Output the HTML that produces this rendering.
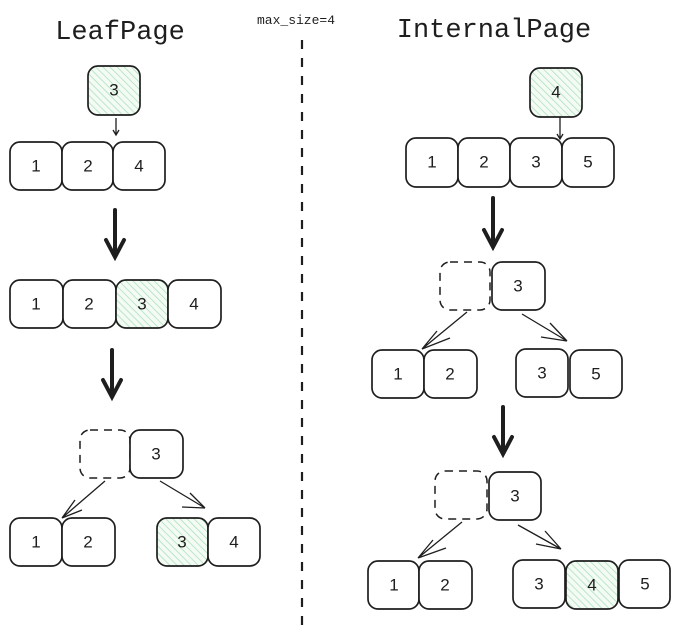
<!DOCTYPE html>
<html><head><meta charset="utf-8"><style>
html,body{margin:0;padding:0;background:#fff;width:680px;height:640px;overflow:hidden}
svg{display:block}
.b{fill:#fff;stroke:#1e1e1e;stroke-width:1.7}
.g{fill:url(#hat);stroke:#1e1e1e;stroke-width:1.7}
.d{fill:none;stroke:#1e1e1e;stroke-width:1.5;stroke-dasharray:8 6}
.t{font-family:"Liberation Sans",sans-serif;font-size:17px;fill:#1e1e1e;text-anchor:middle;dominant-baseline:central}
.m{font-family:"Liberation Mono",monospace;fill:#1e1e1e}
.a{stroke:#1e1e1e;stroke-width:1.3;fill:none}
.k{stroke:#1e1e1e;stroke-width:4;fill:none;stroke-linecap:round}
</style></head><body>
<svg width="680" height="640" viewBox="0 0 680 640">
<defs><pattern id="hat" width="5" height="5" patternUnits="userSpaceOnUse" patternTransform="rotate(-45)">
<rect width="5" height="5" fill="#f4fbf5"/><line x1="0" y1="0" x2="0" y2="5" stroke="#a9e0b5" stroke-width="1.5"/></pattern></defs>

<text class="m" x="120" y="39" font-size="27" text-anchor="middle">LeafPage</text>
<text class="m" x="494" y="37" font-size="27" text-anchor="middle">InternalPage</text>
<text class="m" x="296" y="24" font-size="13" text-anchor="middle">max_size=4</text>
<line x1="302" y1="40" x2="302" y2="626" stroke="#1e1e1e" stroke-width="2.2" stroke-dasharray="9 9"/>

<!-- LEFT -->
<rect class="g" x="88" y="66" width="52" height="49" rx="10"/><text class="t" x="114" y="90">3</text>
<path class="a" d="M116 118 V135 M113 130 L116 135 L119 130"/>
<rect class="b" x="10" y="142" width="52" height="48" rx="10"/><text class="t" x="36" y="166">1</text>
<rect class="b" x="62" y="142" width="51" height="48" rx="10"/><text class="t" x="88" y="166">2</text>
<rect class="b" x="113" y="142" width="52" height="48" rx="10"/><text class="t" x="139" y="166">4</text>
<path class="k" d="M115 210 V256 M106 240 L115 257 L124 240"/>
<rect class="b" x="10" y="280" width="53" height="48" rx="10"/><text class="t" x="36" y="304">1</text>
<rect class="b" x="63" y="280" width="53" height="48" rx="10"/><text class="t" x="89" y="304">2</text>
<rect class="g" x="116" y="280" width="52" height="48" rx="10"/><text class="t" x="142" y="304">3</text>
<rect class="b" x="168" y="280" width="53" height="48" rx="10"/><text class="t" x="194" y="304">4</text>
<path class="k" d="M112 350 V396 M103 380 L112 397 L121 380"/>
<rect class="d" x="80" y="430" width="50" height="48" rx="10"/>
<rect class="b" x="130" y="430" width="53" height="48" rx="10"/><text class="t" x="156" y="454">3</text>
<path class="a" d="M105 481 L62 518 M62 518 L75 500 M62 518 L82 510"/>
<path class="a" d="M160 481 L205 508 M205 508 L190 493 M205 508 L182 507"/>
<rect class="b" x="10" y="518" width="52" height="48" rx="10"/><text class="t" x="36" y="542">1</text>
<rect class="b" x="62" y="518" width="53" height="48" rx="10"/><text class="t" x="88" y="542">2</text>
<rect class="g" x="157" y="518" width="51" height="48" rx="10"/><text class="t" x="182" y="542">3</text>
<rect class="b" x="208" y="518" width="52" height="48" rx="10"/><text class="t" x="234" y="542">4</text>

<!-- RIGHT -->
<rect class="g" x="530" y="68" width="52" height="49" rx="10"/><text class="t" x="556" y="92">4</text>
<path class="a" d="M560 117 V139 M557 134 L560 139 L563 134"/>
<rect class="b" x="406" y="138" width="52" height="49" rx="10"/><text class="t" x="432" y="162">1</text>
<rect class="b" x="458" y="138" width="52" height="49" rx="10"/><text class="t" x="484" y="162">2</text>
<rect class="b" x="510" y="138" width="52" height="49" rx="10"/><text class="t" x="536" y="162">3</text>
<rect class="b" x="562" y="138" width="52" height="49" rx="10"/><text class="t" x="588" y="162">5</text>
<path class="k" d="M493 198 V246 M484 230 L493 247 L502 230"/>
<rect class="d" x="440" y="262" width="50" height="48" rx="10"/>
<rect class="b" x="492" y="262" width="53" height="48" rx="10"/><text class="t" x="518" y="286">3</text>
<path class="a" d="M467 312 L422 349 M422 349 L437 331 M422 349 L450 338"/>
<path class="a" d="M522 314 L567 341 M567 341 L550 323 M567 341 L541 337"/>
<rect class="b" x="372" y="350" width="52" height="48" rx="10"/><text class="t" x="398" y="374">1</text>
<rect class="b" x="424" y="350" width="53" height="48" rx="10"/><text class="t" x="450" y="374">2</text>
<rect class="b" x="516" y="349" width="52" height="48" rx="10"/><text class="t" x="542" y="373">3</text>
<rect class="b" x="570" y="350" width="52" height="48" rx="10"/><text class="t" x="596" y="374">5</text>
<path class="k" d="M503 407 V453 M494 437 L503 454 L512 437"/>
<rect class="d" x="435" y="471" width="52" height="48" rx="10"/>
<rect class="b" x="489" y="472" width="52" height="48" rx="10"/><text class="t" x="515" y="496">3</text>
<path class="a" d="M462 522 L418 558 M418 558 L433 540 M418 558 L446 548"/>
<path class="a" d="M518 525 L561 549 M561 549 L545 531 M561 549 L536 544"/>
<rect class="b" x="368" y="561" width="51" height="48" rx="10"/><text class="t" x="394" y="585">1</text>
<rect class="b" x="419" y="561" width="53" height="48" rx="10"/><text class="t" x="445" y="585">2</text>
<rect class="b" x="513" y="560" width="52" height="48" rx="10"/><text class="t" x="539" y="584">3</text>
<rect class="g" x="566" y="561" width="52" height="48" rx="10"/><text class="t" x="592" y="585">4</text>
<rect class="b" x="619" y="560" width="51" height="48" rx="10"/><text class="t" x="645" y="584">5</text>
</svg>
</body></html>
